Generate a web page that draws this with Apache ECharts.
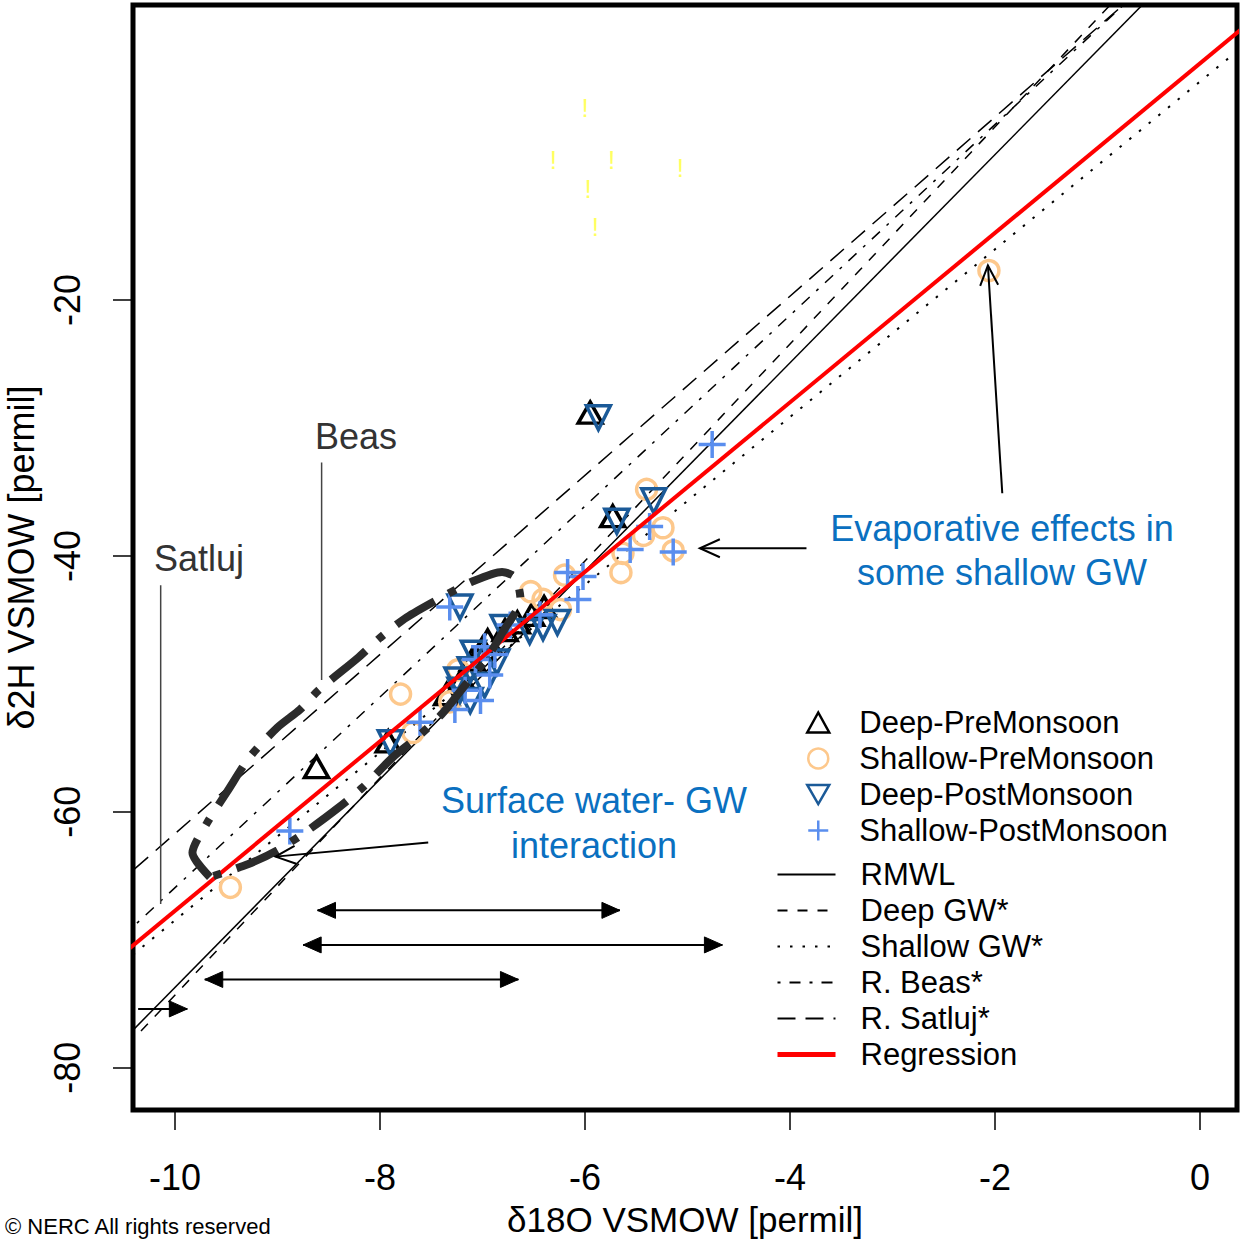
<!DOCTYPE html>
<html><head><meta charset="utf-8">
<script src="https://cdn.jsdelivr.net/npm/echarts@6/dist/echarts.min.js"></script>
<style>html,body{margin:0;padding:0;background:#fff}#c{width:1240px;height:1239px}</style>
</head><body><div id="c"></div>
<script>
// ---- tick values ----
const xTicks = [-10, -8, -6, -4, -2, 0];
const yTicks = [-80, -60, -40, -20];

// ---- samples: [d18O, d2H] ----
const deepPre = [
  [-5.95, -28.8], [-5.73, -36.9], [-8.62, -56.5], [-7.92, -54.5],
  [-6.52, -44.6], [-6.66, -45.2], [-6.78, -45.8], [-6.95, -46.6],
  [-7.10, -48.1], [-7.00, -47.2], [-7.20, -49.6], [-6.40, -44.0], [-7.35, -50.8]
];
const shallowPre = [
  [-2.06, -17.7], [-5.40, -34.8], [-5.24, -37.8], [-5.43, -38.4], [-5.63, -39.8],
  [-5.65, -41.3], [-6.20, -41.5], [-6.53, -42.8], [-6.41, -43.4], [-6.24, -44.2],
  [-7.80, -50.8], [-7.32, -51.4], [-7.24, -48.9], [-7.68, -53.8], [-9.46, -65.9],
  [-5.14, -39.6]
];
const deepPost = [
  [-5.87, -29.2], [-5.69, -37.3], [-5.33, -35.7], [-7.22, -44.0], [-7.90, -54.6],
  [-6.27, -45.2], [-6.41, -45.6], [-6.54, -45.9], [-6.80, -45.6], [-7.09, -47.6],
  [-6.86, -48.3], [-7.12, -48.9], [-7.25, -49.7], [-7.12, -51.3], [-6.98, -50.1],
  [-7.22, -50.5]
];
const shallowPost = [
  [-4.76, -31.3], [-5.14, -39.7], [-5.56, -39.5], [-5.37, -37.7], [-6.07, -43.4],
  [-6.17, -41.3], [-6.02, -41.6], [-8.88, -61.5], [-7.32, -44.0], [-7.61, -53.0],
  [-6.44, -44.6], [-6.98, -47.1], [-7.07, -48.1], [-6.93, -49.3], [-7.17, -50.5],
  [-7.02, -51.3], [-6.88, -47.7], [-7.27, -52.0], [-6.73, -45.4]
];
// unlabelled yellow "!" marks
const flagged = [[-6.00, -5.0], [-6.31, -9.1], [-5.74, -9.1], [-5.97, -11.3], [-5.07, -9.7], [-5.90, -14.3]];

// ---- fitted lines (two end points each) ----
const rmwlLine = [[-10.6, -78.6], [-0.3, 5.2]];
const deepGwLine = [[-10.6, -79.4], [-0.6, 5.4]];
const shallowGwLine = [[-10.6, -72.4], [0.5, 0.35]];
const beasLine = [[-10.6, -70.4], [-0.5, 4.9]];
const satlujLine = [[-10.6, -65.9], [-0.5, 4.8]];
const regressionLine = [[-10.6, -71.7], [0.5, 1.8]];

// hand-drawn loop around the surface water / GW interaction samples
const loopPath = [
  [-9.66, -65.1], [-9.83, -63.2], [-9.69, -60.9], [-9.49, -58.4], [-9.27, -55.7],
  [-9.00, -53.4], [-8.78, -52.0], [-8.60, -50.5], [-8.22, -48.0], [-8.00, -46.4],
  [-7.74, -44.8], [-7.39, -43.2], [-7.10, -42.0], [-6.81, -41.25], [-6.68, -41.7],
  [-6.63, -43.4], [-6.80, -45.9], [-6.95, -47.9], [-7.19, -50.3], [-7.39, -52.3],
  [-7.64, -54.2], [-7.87, -55.7], [-8.17, -58.1], [-8.41, -59.7], [-8.73, -61.6],
  [-9.00, -63.0], [-9.29, -64.1], [-9.66, -65.1]
];

// annotation arrows: [x1, y1, x2, y2, headAtStart, headAtEnd]  (0 none, 1 open, 2 filled)
const annoArrows = [
  [-1.93, -35.1, -2.07, -17.3, 0, 1],
  [-3.84, -39.4, -4.88, -39.4, 0, 1],
  [-7.53, -62.4, -9.02, -63.5, 0, 1],
  [-8.61, -67.7, -5.66, -67.7, 2, 2],
  [-8.75, -70.4, -4.66, -70.4, 2, 2],
  [-9.71, -73.1, -6.65, -73.1, 2, 2],
  [-10.36, -75.4, -9.88, -75.4, 0, 2]
];
const leaders = [
  [-8.57, -32.7, -8.57, -49.7],
  [-10.14, -42.3, -10.14, -67.2]
];

const FONT = '"Liberation Sans", Arial, sans-serif';
const TRI_DOWN = 'path://M0,0 L10,0 L5,8.66 Z';

function head(tip, from, len, half, filled, color) {
  const dx = tip[0] - from[0], dy = tip[1] - from[1];
  const L = Math.hypot(dx, dy) || 1;
  const ux = dx / L, uy = dy / L;
  const bx = tip[0] - ux * len, by = tip[1] - uy * len;
  const p1 = [bx - uy * half, by + ux * half], p2 = [bx + uy * half, by - ux * half];
  if (filled) return { type: 'polygon', shape: { points: [tip, p1, p2] }, style: { fill: color, stroke: color, lineWidth: 1 } };
  return { type: 'polyline', shape: { points: [p1, tip, p2] }, style: { fill: null, stroke: color, lineWidth: 2 } };
}

function renderArrow(params, api) {
  const a = api.coord([api.value(0), api.value(1)]);
  const b = api.coord([api.value(2), api.value(3)]);
  const hs = api.value(4), he = api.value(5);
  const col = '#000';
  const children = [{ type: 'line', shape: { x1: a[0], y1: a[1], x2: b[0], y2: b[1] }, style: { stroke: col, lineWidth: 2 } }];
  if (hs) children.push(hs === 2 ? head(a, b, 18, 8, true, col) : head(a, b, 20, 9, false, col));
  if (he) children.push(he === 2 ? head(b, a, 18, 8, true, col) : head(b, a, 20, 9, false, col));
  return { type: 'group', children };
}
function renderLeader(params, api) {
  const a = api.coord([api.value(0), api.value(1)]);
  const b = api.coord([api.value(2), api.value(3)]);
  return { type: 'line', shape: { x1: a[0], y1: a[1], x2: b[0], y2: b[1] }, style: { stroke: '#444', lineWidth: 1.5 } };
}
function renderFlag(params, api) {
  const p = api.coord([api.value(0), api.value(1)]);
  return { type: 'text', x: p[0], y: p[1], style: { text: '!', fill: '#FFFF60', font: '26px ' + FONT, align: 'center', verticalAlign: 'middle' } };
}

const chart = echarts.init(document.getElementById('c'), null, { renderer: 'svg' });

const lineSeries = (name, data, color, width, type, z) => ({
  name, type: 'line', data, symbol: 'none', showSymbol: false, silent: true, z,
  lineStyle: { color, width, type, cap: 'butt' }, itemStyle: { color: 'rgba(0,0,0,0)', borderWidth: 0 }
});
const scatterSeries = (name, data, symbol, size, color, z) => ({
  name, type: 'scatter', data, symbol, symbolSize: size, z,
  itemStyle: { color: 'rgba(0,0,0,0)', borderColor: color, borderWidth: 3.5, opacity: 1 }
});

chart.setOption({
  animation: false,
  backgroundColor: '#fff',
  grid: {
    show: true, left: 133, top: 5, width: 1104, height: 1105,
    outerBoundsMode: 'none', containLabel: false,
    borderColor: '#000', borderWidth: 5, backgroundColor: 'transparent'
  },
  xAxis: {
    type: 'value', min: -10.41, max: 0.36,
    name: 'δ18O VSMOW [permil]', nameLocation: 'middle', nameGap: 92,
    nameTextStyle: { fontSize: 35, color: '#000', fontFamily: FONT },
    axisLine: { show: false, onZero: false },
    axisTick: { show: true, customValues: xTicks, length: 20, lineStyle: { color: '#000', width: 1.5 } },
    axisLabel: { customValues: xTicks, fontSize: 36, color: '#000', fontFamily: FONT, margin: 49 },
    splitLine: { show: false }
  },
  yAxis: {
    type: 'value', min: -83.3, max: 3.05,
    name: 'δ2H VSMOW [permil]', nameLocation: 'middle', nameGap: 94, nameRotate: 90,
    nameTextStyle: { fontSize: 36, color: '#000', fontFamily: FONT },
    axisLine: { show: false, onZero: false },
    axisTick: { show: true, customValues: yTicks, length: 20, lineStyle: { color: '#000', width: 1.5 } },
    axisLabel: { customValues: yTicks, fontSize: 36, color: '#000', fontFamily: FONT, rotate: 90, margin: 48 },
    splitLine: { show: false }
  },
  legend: [
    {
      data: ['Deep-PreMonsoon', 'Shallow-PreMonsoon', 'Deep-PostMonsoon', 'Shallow-PostMonsoon'],
      orient: 'vertical', left: 806, top: 707, padding: 0, itemWidth: 22, itemHeight: 20, itemGap: 5,
      itemStyle: { borderWidth: 2.5 },
      selectedMode: false, textStyle: { fontSize: 31, color: '#000', fontFamily: FONT, padding: [0, 0, 0, 25] }
    },
    {
      data: ['RMWL', 'Deep GW*', 'Shallow GW*', 'R. Beas*', 'R. Satluj*',
        { name: 'Regression', lineStyle: { width: 5 } }],
      orient: 'vertical', left: 775, top: 859, padding: 0, itemWidth: 58, itemHeight: 20, itemGap: 5,
      itemStyle: { opacity: 0 },
      selectedMode: false, textStyle: { fontSize: 31, color: '#000', fontFamily: FONT, padding: [0, 0, 0, 20] }
    }
  ],
  graphic: [
    { type: 'text', x: 1002, y: 528, style: { text: 'Evaporative effects in', fill: '#0A70C0', font: '36px ' + FONT, align: 'center', verticalAlign: 'middle' } },
    { type: 'text', x: 1002, y: 572, style: { text: 'some shallow GW', fill: '#0A70C0', font: '36px ' + FONT, align: 'center', verticalAlign: 'middle' } },
    { type: 'text', x: 594, y: 800, style: { text: 'Surface water- GW', fill: '#0A70C0', font: '36px ' + FONT, align: 'center', verticalAlign: 'middle' } },
    { type: 'text', x: 594, y: 845, style: { text: 'interaction', fill: '#0A70C0', font: '36px ' + FONT, align: 'center', verticalAlign: 'middle' } },
    { type: 'text', x: 356, y: 436, style: { text: 'Beas', fill: '#333', font: '36px ' + FONT, align: 'center', verticalAlign: 'middle' } },
    { type: 'text', x: 199, y: 558, style: { text: 'Satluj', fill: '#333', font: '36px ' + FONT, align: 'center', verticalAlign: 'middle' } },
    { type: 'text', x: 5, y: 1226, style: { text: '© NERC All rights reserved', fill: '#000', font: '22px ' + FONT, align: 'left', verticalAlign: 'middle' } }
  ],
  series: [
    lineSeries('RMWL', rmwlLine, '#000', 1.5, 'solid', 2),
    lineSeries('Deep GW*', deepGwLine, '#000', 1.5, [10, 10], 2),
    lineSeries('Shallow GW*', shallowGwLine, '#000', 2, [2.5, 10], 2),
    lineSeries('R. Beas*', beasLine, '#000', 1.5, [3, 9, 11, 9], 2),
    lineSeries('R. Satluj*', satlujLine, '#000', 1.5, [18, 10], 2),
    scatterSeries('Deep-PreMonsoon', deepPre, 'triangle', [24, 21], '#000', 3),
    scatterSeries('Shallow-PreMonsoon', shallowPre, 'circle', 20, '#FDC88C', 3),
    scatterSeries('Deep-PostMonsoon', deepPost, TRI_DOWN, 24, '#1B5A98', 3),
    scatterSeries('Shallow-PostMonsoon', shallowPost, 'path://M5,0 L5,10 M0,5 L10,5', 27, '#5A8EEE', 3),
    lineSeries('Regression', regressionLine, '#FF0000', 4, 'solid', 4),
    {
      name: 'loop', type: 'line', data: loopPath, symbol: 'none', smooth: 0.25, silent: true, z: 5,
      lineStyle: { color: '#2b2b2b', width: 8, type: [45, 16, 8, 16], cap: 'butt' }
    },
    { name: 'flags', type: 'custom', data: flagged, renderItem: renderFlag, silent: true, z: 3 },
    { name: 'arrows', type: 'custom', data: annoArrows, renderItem: renderArrow, silent: true, z: 6 },
    { name: 'leaders', type: 'custom', data: leaders, renderItem: renderLeader, silent: true, z: 6 }
  ]
});
</script>
</body></html>
